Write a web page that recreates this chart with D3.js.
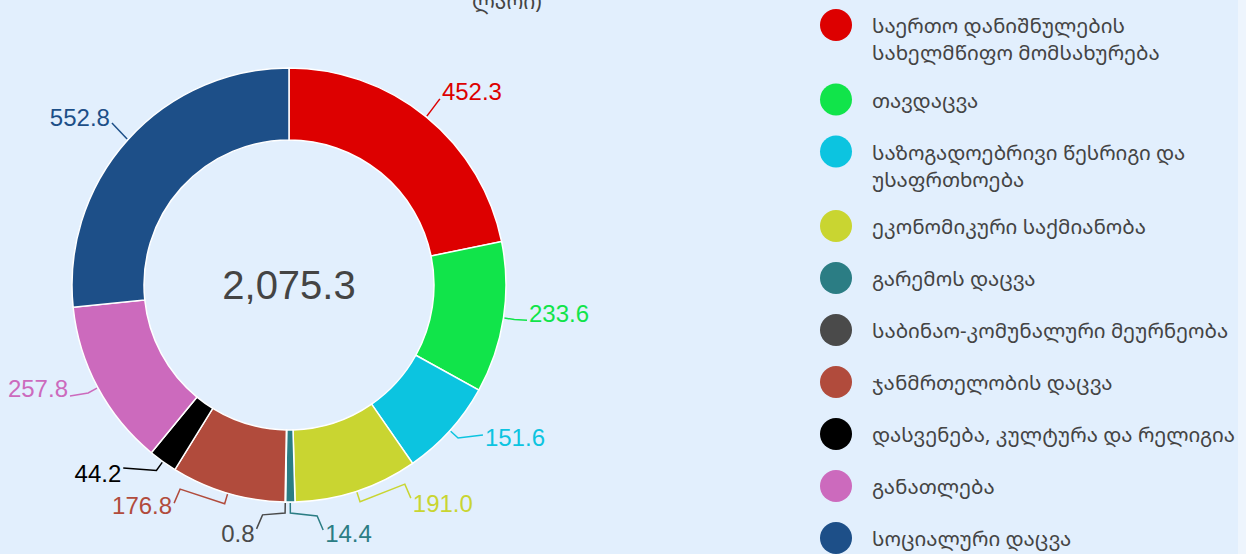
<!DOCTYPE html>
<html>
<head>
<meta charset="utf-8">
<script src="https://cdn.jsdelivr.net/npm/d3@7"></script>
<style>
  html, body { margin: 0; padding: 0; background: #e2effd; }
  svg { display: block; }
</style>
</head>
<body>
<svg id="chart" width="1246" height="554"></svg>
<script>
// ---- data ----
const categories = [
  "საერთო დანიშნულების სახელმწიფო მომსახურება",
  "თავდაცვა",
  "საზოგადოებრივი წესრიგი და უსაფრთხოება",
  "ეკონომიკური საქმიანობა",
  "გარემოს დაცვა",
  "საბინაო-კომუნალური მეურნეობა",
  "ჯანმრთელობის დაცვა",
  "დასვენება, კულტურა და რელიგია",
  "განათლება",
  "სოციალური დაცვა"
];
const values = [452.3, 233.6, 151.6, 191.0, 14.4, 0.8, 176.8, 44.2, 257.8, 552.8];
const colors = ["#dd0000", "#11e44a", "#0cc4e0", "#c9d531", "#2b7d84", "#4a4a4a", "#b14b3c", "#000000", "#cc6abd", "#1d4f88"];
const titleText = "ლარი)";

// ---- label layout (angle nudges in degrees, radii, text offsets) ----
const labelNudge = [-0.2, -0.3, -4.4, -11.6, -7.6, 6.6, 11.4, 6.6, 1.4, 0.4];
const labelRad   = [239.6, 240.6, 245.2, 245.5, 247.3, 246, 246.5, 247, 245.5, 240];
const textDy     = [-7, -7, 2, 5, 4, 5, 2, 5, -7, -6];

const svg = d3.select("#chart");
const W = 1246, H = 554;
const cx = 289, cy = 285, R = 217, r0 = 145;
const toRad = Math.PI / 180;
const geo = "Noto Sans Georgian, DejaVu Sans, sans-serif";
const num = "Liberation Sans, Arial, sans-serif";

svg.append("rect").attr("x", 1238).attr("y", 0).attr("width", W - 1238).attr("height", H)
  .attr("fill", "#eef5fd");

svg.append("text")
  .attr("x", 472).attr("y", 9)
  .attr("font-family", geo)
  .attr("font-size", 21)
  .attr("fill", "#444")
  .text(titleText);

const pie = d3.pie().sort(null).value(d => d)(values);
const arc = d3.arc().innerRadius(r0).outerRadius(R);
const g = svg.append("g").attr("transform", `translate(${cx},${cy})`);

g.selectAll("path.slice").data(pie).join("path")
  .attr("class", "slice")
  .attr("d", arc)
  .attr("fill", (d, i) => colors[i])
  .attr("stroke", "#ffffff")
  .attr("stroke-width", 1.5);

const total = d3.sum(values);
g.append("text")
  .attr("text-anchor", "middle")
  .attr("dominant-baseline", "central")
  .attr("font-family", num)
  .attr("font-size", 40)
  .attr("fill", "#444")
  .text(d3.format(",.1f")(total));

const polar = (ang, rad) => [rad * Math.sin(ang), -rad * Math.cos(ang)];

pie.forEach((d, i) => {
  const mid = (d.startAngle + d.endAngle) / 2;
  const la = mid + labelNudge[i] * toRad;
  const onRight = Math.sin(la) > 0;
  const side = onRight ? 1 : -1;
  const p0 = polar(mid, R + 1);
  const p1 = polar(mid, R + 11);
  const p3 = polar(la, labelRad[i]);
  let pts;
  if (Math.cos(mid) > 0.6 || (Math.cos(mid) > 0.3 && !onRight)) {
    pts = [p0, p3];                       // upper labels: straight leader
  } else if (Math.cos(mid) < -0.9) {
    const p2 = [p3[0] - side * 6, p3[1] - 14]; // bottom labels: bracket leader
    pts = [p0, p1, p2, p3];
  } else {
    pts = [p0, p1, p3];
  }
  g.append("polyline")
    .attr("points", pts.map(p => p.join(",")).join(" "))
    .attr("fill", "none")
    .attr("stroke", colors[i])
    .attr("stroke-width", 1.5);
  g.append("text")
    .attr("x", p3[0] + side * 2)
    .attr("y", p3[1] + textDy[i])
    .attr("text-anchor", onRight ? "start" : "end")
    .attr("dominant-baseline", "central")
    .attr("font-family", num)
    .attr("font-size", 24)
    .attr("fill", colors[i])
    .text(d3.format(".1f")(values[i]));
});

// ---- legend ----
const legend = svg.append("g");
const maxW = 368;
let y = 25;
categories.forEach((c, i) => {
  const item = legend.append("g");
  item.append("circle").attr("cx", 836).attr("cy", y).attr("r", 16).attr("fill", colors[i]);
  const t = item.append("text")
    .attr("font-family", geo)
    .attr("font-size", 20.5)
    .attr("fill", "#444");
  const words = c.split(" ");
  let lines = [], cur = [];
  const probe = t.append("tspan").attr("x", 872).attr("y", y);
  words.forEach(w => {
    const test = cur.concat([w]).join(" ");
    probe.text(test);
    if (probe.node().getComputedTextLength() > maxW && cur.length) {
      lines.push(cur.join(" "));
      cur = [w];
    } else cur.push(w);
  });
  lines.push(cur.join(" "));
  probe.remove();
  lines.forEach((ln, k) => {
    t.append("tspan").attr("x", 872).attr("y", y + k * 27)
      .attr("dominant-baseline", "central").text(ln);
  });
  y += 52 + (lines.length - 1) * 22.5;
});
</script>
</body>
</html>
